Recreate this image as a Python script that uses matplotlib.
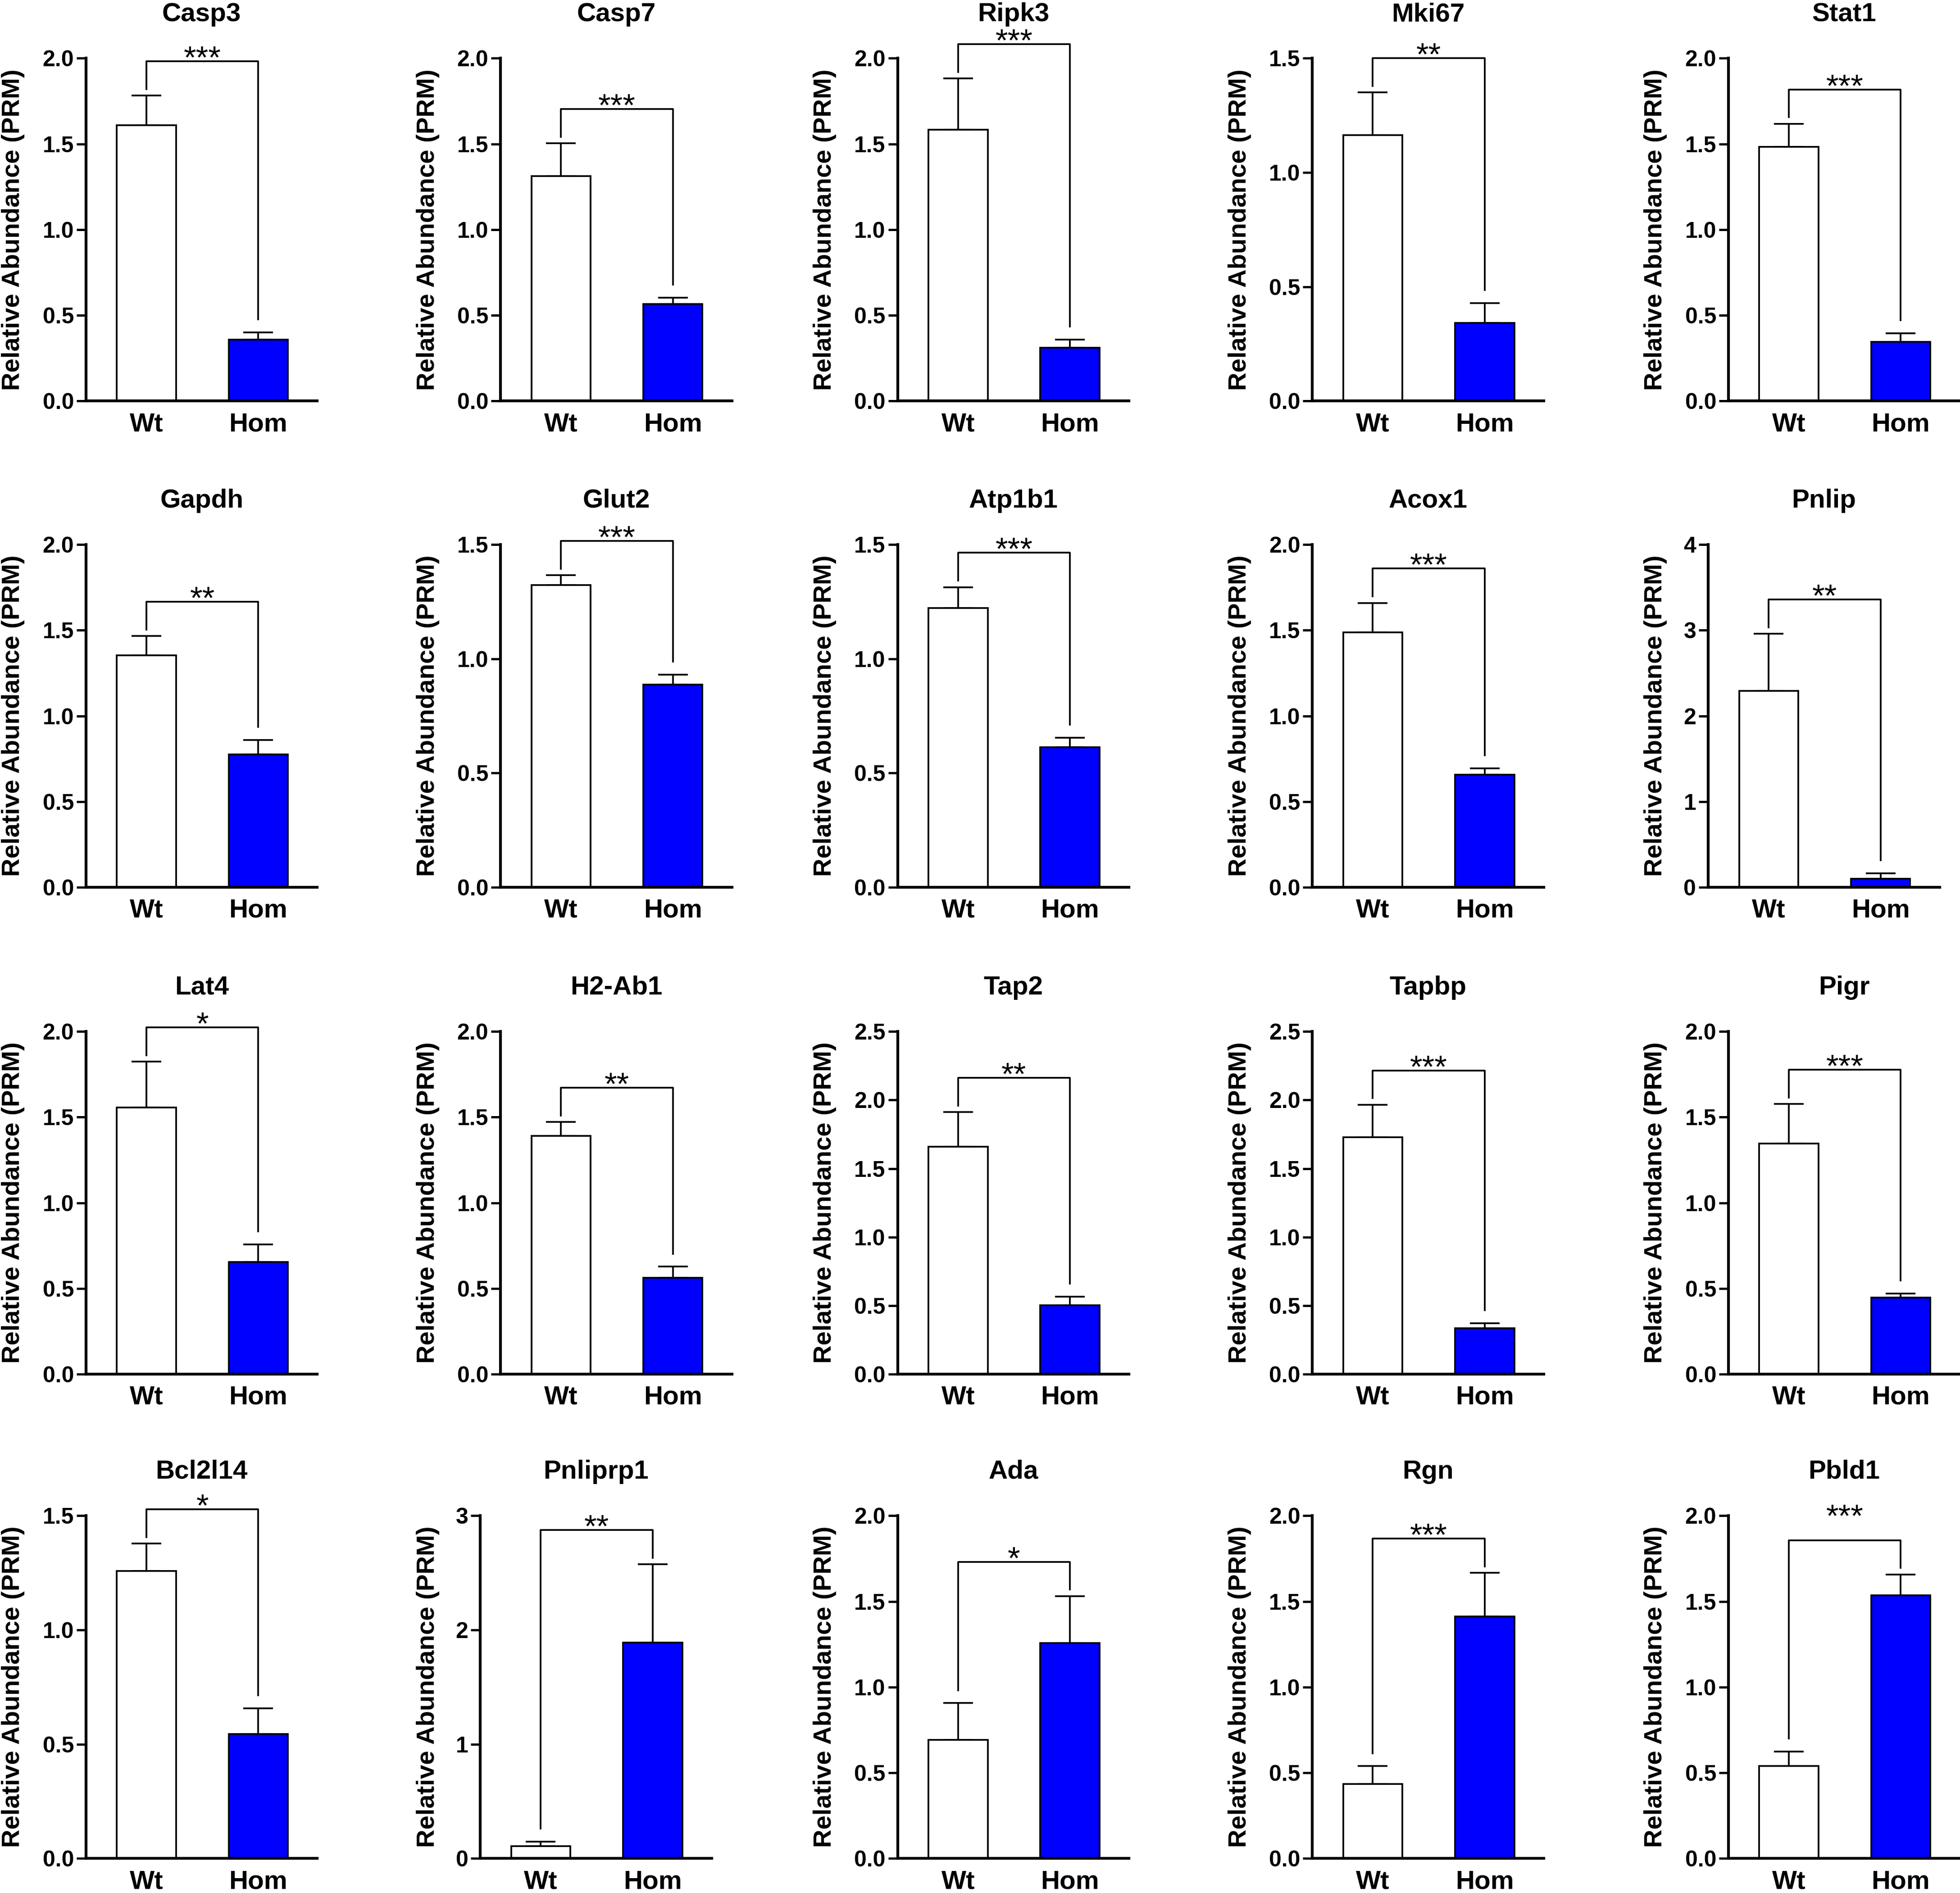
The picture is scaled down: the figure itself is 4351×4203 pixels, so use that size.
import numpy as np
import matplotlib
matplotlib.use('Agg')
import matplotlib.pyplot as plt
from matplotlib.ticker import MultipleLocator, FormatStrFormatter

plt.rcParams['font.family'] = ['Liberation Sans', 'DejaVu Sans']

# --- data ---
GENES = ['Casp3', 'Casp7', 'Ripk3', 'Mki67', 'Stat1',
         'Gapdh', 'Glut2', 'Atp1b1', 'Acox1', 'Pnlip',
         'Lat4', 'H2-Ab1', 'Tap2', 'Tapbp', 'Pigr',
         'Bcl2l14', 'Pnliprp1', 'Ada', 'Rgn', 'Pbld1']
GROUPS = ['Wt', 'Hom']
WT_MEAN = [1.61, 1.313, 1.582, 1.164, 1.484,
           1.355, 1.322, 1.223, 1.489, 2.292,
           1.555, 1.39, 1.66, 1.729, 1.345,
           1.259, 0.106, 0.692, 0.434, 0.54]
WT_ERR = [0.173, 0.19, 0.30, 0.187, 0.134,
          0.111, 0.044, 0.091, 0.171, 0.666,
          0.269, 0.082, 0.252, 0.237, 0.231,
          0.119, 0.041, 0.214, 0.104, 0.084]
HOM_MEAN = [0.358, 0.565, 0.311, 0.342, 0.345,
            0.775, 0.888, 0.613, 0.657, 0.101,
            0.654, 0.563, 0.504, 0.336, 0.447,
            0.544, 1.891, 1.256, 1.413, 1.536]
HOM_ERR = [0.042, 0.037, 0.047, 0.087, 0.05,
           0.084, 0.043, 0.041, 0.037, 0.06,
           0.104, 0.064, 0.061, 0.036, 0.024,
           0.112, 0.684, 0.275, 0.253, 0.121]
Y_MAX = [2.0, 2.0, 2.0, 1.5, 2.0,
         2.0, 1.5, 1.5, 2.0, 4.0,
         2.0, 2.0, 2.5, 2.5, 2.0,
         1.5, 3.0, 2.0, 2.0, 2.0]
Y_STEP = [0.5, 0.5, 0.5, 0.5, 0.5,
          0.5, 0.5, 0.5, 0.5, 1.0,
          0.5, 0.5, 0.5, 0.5, 0.5,
          0.5, 1.0, 0.5, 0.5, 0.5]
STARS = ['***', '***', '***', '**', '***',
         '**', '***', '***', '***', '**',
         '*', '**', '**', '***', '***',
         '*', '**', '*', '***', '***']

BLUE = '#0000FF'
STAR_RAISE = {'Pbld1': 0.06}  # stars sit higher on this panel

fig = plt.figure(figsize=(4351 / 300, 4203 / 300), dpi=300)

col_left = [0.0439, 0.2554, 0.4580, 0.6696, 0.8819]
row_bottom = [0.7882, 0.5313, 0.2741, 0.0183]
ax_w, ax_h = 0.1180, 0.181

for i, gene in enumerate(GENES):
    r, c = divmod(i, 5)
    int_ticks = Y_STEP[i] >= 1
    shift = 0.0103 if int_ticks else 0.0
    ax = fig.add_axes([col_left[c] - shift, row_bottom[r], ax_w, ax_h])
    ymax = Y_MAX[i]
    x = np.arange(2)
    means = [WT_MEAN[i], HOM_MEAN[i]]
    errs = [WT_ERR[i], HOM_ERR[i]]

    ax.bar(x, means, width=0.53, color=['white', BLUE], edgecolor='black',
           linewidth=0.9, zorder=2)
    ax.errorbar(x, means, yerr=[[0, 0], errs], fmt='none', ecolor='black',
                elinewidth=0.9, capsize=8, capthick=0.9, zorder=1)

    # significance bracket
    tops = [m + e for m, e in zip(means, errs)]
    br = max(tops) + 0.1 * ymax
    tall = int(np.argmax(tops))
    legs = [t + (0.019 if k == tall else 0.038) * ymax for k, t in enumerate(tops)]
    ax.plot([x[0], x[0], x[1], x[1]], [legs[0], br, br, legs[1]],
            color='black', lw=0.9, clip_on=False)
    ax.text(0.5, br + (STAR_RAISE.get(gene, 0.0) - 0.02) * ymax, STARS[i],
            ha='center', va='baseline', fontsize=17, clip_on=False)

    ax.set_xlim(-0.54, 1.528)
    ax.set_ylim(0, ymax)
    ax.yaxis.set_major_locator(MultipleLocator(Y_STEP[i]))
    ax.yaxis.set_major_formatter(FormatStrFormatter('%d' if int_ticks else '%.1f'))
    ax.set_xticks(x, GROUPS)
    for side in ['top', 'right']:
        ax.spines[side].set_visible(False)
    for side in ['left', 'bottom']:
        ax.spines[side].set_linewidth(1.5)
    ax.tick_params(axis='y', direction='out', length=5, width=1.2, pad=1.5,
                   labelsize=12)
    ax.tick_params(axis='x', length=0, pad=6, labelsize=14)
    for lab in ax.get_xticklabels() + ax.get_yticklabels():
        lab.set_fontweight('bold')

    ax.set_ylabel('Relative Abundance (PRM)', fontsize=13.5, fontweight='bold')
    ax.yaxis.label.set_va('center')
    ax.yaxis.set_label_coords(-0.315 + shift / ax_w, 0.5)
    ax.text(0.5, 1.128, gene, transform=ax.transAxes, ha='center', va='center',
            fontsize=14, fontweight='bold')

fig.savefig('out.png', dpi=300)
